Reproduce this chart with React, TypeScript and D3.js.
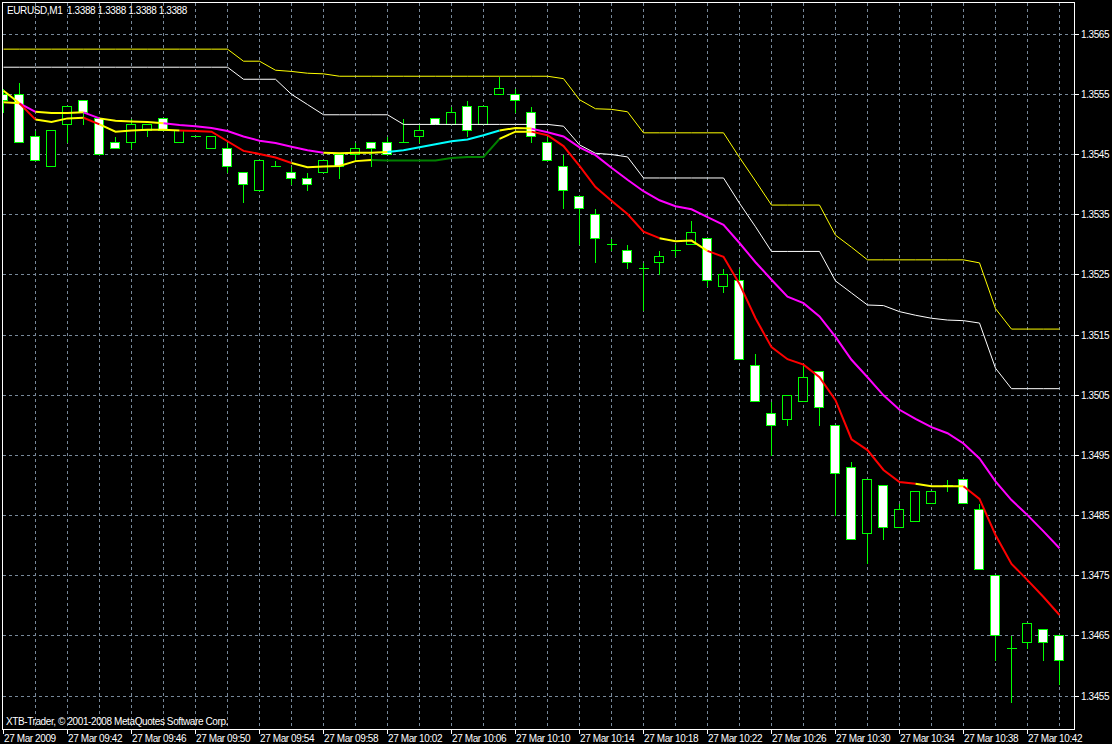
import React, { useEffect } from "react";
import * as d3 from "d3";

// ---------- data ----------
const timeLabels = [
  "27 Mar 2009", "27 Mar 09:42", "27 Mar 09:46", "27 Mar 09:50", "27 Mar 09:54",
  "27 Mar 09:58", "27 Mar 10:02", "27 Mar 10:06", "27 Mar 10:10", "27 Mar 10:14",
  "27 Mar 10:18", "27 Mar 10:22", "27 Mar 10:26", "27 Mar 10:30", "27 Mar 10:34",
  "27 Mar 10:38", "27 Mar 10:42",
];
const priceTicks = [1.3565, 1.3555, 1.3545, 1.3535, 1.3525, 1.3515, 1.3505, 1.3495, 1.3485, 1.3475, 1.3465, 1.3455];

const opens = [
  1.3555, 1.3555, 1.3548, 1.3543, 1.3550, 1.3554, 1.3551, 1.3547, 1.3547, 1.3549,
  1.3551, 1.3547, 1.3548, 1.3546, 1.3546, 1.3542, 1.3539, 1.3543, 1.3542, 1.3541,
  1.3542, 1.3545, 1.3545, 1.3547, 1.3547, 1.3547, 1.3548, 1.3551, 1.3550, 1.3553,
  1.3550, 1.3555, 1.3555, 1.3552, 1.3547, 1.3543, 1.3538, 1.3535, 1.3530, 1.3529,
  1.3526, 1.3527, 1.3529, 1.3530, 1.3531, 1.3523, 1.3524, 1.3510, 1.3502, 1.3501,
  1.3504, 1.3509, 1.3500, 1.3493, 1.3482, 1.3490, 1.3483, 1.3484, 1.3487, 1.3490,
  1.3491, 1.3486, 1.3475, 1.3463, 1.3464, 1.3466, 1.3465,
];
const highs = [
  1.3556, 1.3557, 1.3549, 1.3549, 1.3553, 1.3554, 1.3551, 1.3548, 1.3551, 1.3550,
  1.3551, 1.3549, 1.3548, 1.3548, 1.3547, 1.3542, 1.3544, 1.3544, 1.3543, 1.3542,
  1.3544, 1.3545, 1.3547, 1.3547, 1.3548, 1.3551, 1.3550, 1.3551, 1.3553, 1.3554,
  1.3553, 1.3558, 1.3556, 1.3553, 1.3548, 1.3545, 1.3538, 1.3536, 1.3531, 1.3530,
  1.3527, 1.3529, 1.3530, 1.3534, 1.3531, 1.3526, 1.3526, 1.3512, 1.3504, 1.3505,
  1.3510, 1.3509, 1.3500, 1.3494, 1.3491, 1.3490, 1.3487, 1.3489, 1.3489, 1.3491,
  1.3491, 1.3487, 1.3475, 1.3465, 1.3467, 1.3466, 1.3465,
];
const lows = [
  1.3552, 1.3547, 1.3544, 1.3543, 1.3547, 1.3550, 1.3545, 1.3546, 1.3546, 1.3548,
  1.3549, 1.3547, 1.3548, 1.3546, 1.3542, 1.3537, 1.3539, 1.3543, 1.3540, 1.3539,
  1.3542, 1.3541, 1.3544, 1.3543, 1.3545, 1.3547, 1.3547, 1.3550, 1.3550, 1.3548,
  1.3550, 1.3555, 1.3552, 1.3547, 1.3544, 1.3536, 1.3530, 1.3527, 1.3529, 1.3526,
  1.3519, 1.3525, 1.3528, 1.3530, 1.3523, 1.3522, 1.3511, 1.3504, 1.3495, 1.3500,
  1.3504, 1.3500, 1.3485, 1.3481, 1.3477, 1.3481, 1.3483, 1.3484, 1.3487, 1.3489,
  1.3487, 1.3476, 1.3461, 1.3454, 1.3463, 1.3461, 1.3457,
];
const closes = [
  1.3554, 1.3547, 1.3544, 1.3549, 1.3553, 1.3552, 1.3545, 1.3546, 1.3550, 1.3550,
  1.3549, 1.3549, 1.3548, 1.3548, 1.3543, 1.3540, 1.3544, 1.3543, 1.3541, 1.3540,
  1.3544, 1.3543, 1.3546, 1.3546, 1.3545, 1.3547, 1.3549, 1.3550, 1.3552, 1.3549,
  1.3553, 1.3556, 1.3554, 1.3548, 1.3544, 1.3539, 1.3536, 1.3531, 1.3530, 1.3527,
  1.3526, 1.3528, 1.3529, 1.3532, 1.3524, 1.3525, 1.3511, 1.3504, 1.3500, 1.3505,
  1.3508, 1.3503, 1.3492, 1.3481, 1.3491, 1.3483, 1.3486, 1.3489, 1.3489, 1.3490,
  1.3487, 1.3476, 1.3465, 1.3463, 1.3467, 1.3464, 1.3461,
];

const fastMA = [
  1.35555, 1.35534, 1.35507, 1.35503, 1.35509, 1.35510, 1.35499, 1.35487, 1.35489, 1.35490,
  1.35490, 1.35489, 1.35488, 1.35487, 1.35471, 1.35455, 1.35450, 1.35444, 1.35435, 1.35428,
  1.35429, 1.35430, 1.35438, 1.35440, 1.35439, 1.35439, 1.35439, 1.35439, 1.35443, 1.35445,
  1.35445, 1.35475, 1.35487, 1.35487, 1.35481, 1.35463, 1.35430, 1.35395, 1.35372, 1.35350,
  1.35321, 1.35310, 1.35305, 1.35306, 1.35289, 1.35279, 1.35234, 1.35177, 1.35129, 1.35109,
  1.35100, 1.35079, 1.35041, 1.34976, 1.34958, 1.34925, 1.34905, 1.34902, 1.34898, 1.34898,
  1.34898, 1.34877, 1.34817, 1.34769, 1.34742, 1.34714, 1.34684,
];
const fastRuns: [string, number][] = [
  ["Y", 1], ["R", 1], ["Y", 3], ["R", 1], ["Y", 5], ["R", 7], ["Y", 5],
  ["G", 8], ["Y", 2], ["R", 8], ["Y", 3], ["R", 13], ["Y", 3], ["R", 6],
];

const slowMA = [
  1.35536, 1.35534, 1.35520, 1.35518, 1.35518, 1.35519, 1.35509, 1.35505, 1.35504, 1.35503,
  1.35501, 1.35498, 1.35496, 1.35493, 1.35488, 1.35479, 1.35472, 1.35468, 1.35462, 1.35456,
  1.35452, 1.35451, 1.35452, 1.35452, 1.35453, 1.35456, 1.35461, 1.35466, 1.35471, 1.35474,
  1.35481, 1.35489, 1.35493, 1.35492, 1.35486, 1.35479, 1.35461, 1.35448, 1.35427, 1.35407,
  1.35388, 1.35373, 1.35363, 1.35358, 1.35345, 1.35332, 1.35302, 1.35270, 1.35241, 1.35213,
  1.35202, 1.35180, 1.35146, 1.35108, 1.35079, 1.35049, 1.35025, 1.35010, 1.34996, 1.34986,
  1.34969, 1.34944, 1.34906, 1.34875, 1.34850, 1.34823, 1.34795,
];
const slowRuns: [string, number][] = [
  ["Y", 1], ["M", 1], ["Y", 3], ["M", 1], ["Y", 4], ["M", 10], ["Y", 4], ["C", 7], ["Y", 2], ["M", 33],
];

const upperYellow = [
  1.35624, 1.35624, 1.35624, 1.35624, 1.35624, 1.35624, 1.35624, 1.35624, 1.35624, 1.35624,
  1.35624, 1.35624, 1.35624, 1.35624, 1.35624, 1.35604, 1.35604, 1.35589, 1.35587, 1.35584,
  1.35583, 1.35579, 1.35579, 1.35579, 1.35579, 1.35579, 1.35579, 1.35579, 1.35579, 1.35579,
  1.35579, 1.35579, 1.35579, 1.35579, 1.35579, 1.35575, 1.35540, 1.35525, 1.35524, 1.35520,
  1.35485, 1.35485, 1.35485, 1.35485, 1.35485, 1.35485, 1.35444, 1.35405, 1.35365, 1.35365,
  1.35365, 1.35365, 1.35315, 1.35295, 1.35274, 1.35274, 1.35274, 1.35274, 1.35274, 1.35274,
  1.35274, 1.35269, 1.35193, 1.35159, 1.35159, 1.35159, 1.35159,
];
const upperWhite = [
  1.35594, 1.35594, 1.35594, 1.35594, 1.35594, 1.35594, 1.35594, 1.35594, 1.35594, 1.35594,
  1.35594, 1.35594, 1.35594, 1.35594, 1.35594, 1.35574, 1.35574, 1.35574, 1.35549, 1.35532,
  1.35515, 1.35515, 1.35515, 1.35515, 1.35515, 1.35499, 1.35499, 1.35499, 1.35499, 1.35499,
  1.35499, 1.35499, 1.35499, 1.35499, 1.35499, 1.35496, 1.35465, 1.35451, 1.35449, 1.35445,
  1.35410, 1.35410, 1.35410, 1.35410, 1.35410, 1.35410, 1.35368, 1.35329, 1.35288, 1.35288,
  1.35288, 1.35288, 1.35239, 1.35219, 1.35199, 1.35198, 1.35188, 1.35182, 1.35177, 1.35174,
  1.35173, 1.35169, 1.35094, 1.35060, 1.35060, 1.35060, 1.35060,
];

const titleText = "EURUSD,M1\u00A0\u00A01.3388 1.3388 1.3388 1.3388";
const copyrightText = "XTB-Trader, \u00A9 2001-2008 MetaQuotes Software Corp.";

// ---------- component ----------
const COLORS: Record<string, string> = {
  Y: "#ffff00",
  R: "#ff0000",
  G: "#008000",
  M: "#ff00ff",
  C: "#00ffff",
};

export default function App() {
  useEffect(() => {
    document.body.style.margin = "0";
    document.body.style.background = "#000";
  }, []);

  const W = 1112;
  const H = 744;
  const L = 2.5, T = 2.5, R = 1074.5, B = 729.5;
  const n = opens.length;
  const x = d3.scaleLinear().domain([0, n - 1]).range([3.5, 3.5 + 16 * (n - 1)]);
  const y = d3.scaleLinear().domain([1.3455, 1.3565]).range([695.7, 33.5]);
  const cy = (p: number) => Math.round(y(p)) + 0.5;
  const line = d3
    .line<[number, number]>()
    .x((d) => x(d[0]))
    .y((d) => y(d[1]));

  const runPaths = (vals: number[], runs: [string, number][]) => {
    let s = 0;
    return runs.map(([c, len]) => {
      const pts = d3.range(s, s + len + 1).map((i) => [i, vals[i]] as [number, number]);
      s += len;
      return { d: line(pts) || "", color: COLORS[c] };
    });
  };

  const fastPaths = runPaths(fastMA, fastRuns);
  const slowPaths = runPaths(slowMA, slowRuns);
  const yellowPath = line(upperYellow.map((v, i) => [i, v] as [number, number])) || "";
  const whitePath = line(upperWhite.map((v, i) => [i, v] as [number, number])) || "";

  const vGrid = d3.range(2, n, 2);
  const timeIdx = timeLabels.map((_, k) => k * 4);
  const fmt = d3.format(".4f");
  const font = "'Liberation Sans', Arial, sans-serif";
  const fs = 10;
  const ls = -0.4;
  const grid = "#778899";

  return (
    <svg width={W} height={H} style={{ display: "block", background: "#000" }}>
      <defs>
        <clipPath id="plot">
          <rect x={L} y={T} width={R - L} height={B - T} />
        </clipPath>
      </defs>
      <rect x={0} y={0} width={W} height={H} fill="#000" />

      <g clipPath="url(#plot)">
        {/* grid */}
        <g stroke={grid} strokeWidth={1} strokeDasharray="3,3" shapeRendering="crispEdges">
          {priceTicks.map((p) => (
            <line key={"h" + p} x1={L} x2={R} y1={cy(p)} y2={cy(p)} />
          ))}
          {vGrid.map((i) => (
            <line key={"v" + i} x1={x(i)} x2={x(i)} y1={T} y2={B} />
          ))}
        </g>

        {/* candles */}
        <g shapeRendering="crispEdges">
          {opens.map((o, i) => {
            const c = closes[i];
            const cx = x(i);
            const yTop = cy(Math.max(o, c));
            const yBot = cy(Math.min(o, c));
            const bear = o > c;
            return (
              <g key={"c" + i}>
                <line x1={cx} x2={cx} y1={cy(highs[i])} y2={cy(lows[i])} stroke="#00ff00" strokeWidth={1} />
                {o === c ? (
                  <line x1={cx - 5} x2={cx + 5} y1={yTop} y2={yTop} stroke="#00ff00" strokeWidth={1} />
                ) : (
                  <rect
                    x={cx - 5}
                    y={yTop}
                    width={9}
                    height={yBot - yTop}
                    fill={bear ? "#ffffff" : "#000000"}
                    stroke="#00ff00"
                    strokeWidth={1}
                  />
                )}
              </g>
            );
          })}
        </g>

        {/* upper step lines */}
        <path d={yellowPath} fill="none" stroke="#ffff00" strokeWidth={1} />
        <path d={whitePath} fill="none" stroke="#ffffff" strokeWidth={1} />

        {/* moving averages */}
        {slowPaths.map((p, k) => (
          <path key={"s" + k} d={p.d} fill="none" stroke={p.color} strokeWidth={2} />
        ))}
        {fastPaths.map((p, k) => (
          <path key={"f" + k} d={p.d} fill="none" stroke={p.color} strokeWidth={2} />
        ))}
      </g>

      {/* frame */}
      <rect x={L} y={T} width={R - L} height={B - T} fill="none" stroke="#ffffff" strokeWidth={1} shapeRendering="crispEdges" />

      {/* axis ticks */}
      <g shapeRendering="crispEdges">
        {priceTicks.map((p) => (
          <line key={"rt" + p} x1={R} x2={R + 4} y1={cy(p)} y2={cy(p)} stroke="#ffffff" />
        ))}
        {timeIdx.map((i) => (
          <line key={"bt" + i} x1={x(i)} x2={x(i)} y1={B} y2={B + 4} stroke="#ffffff" />
        ))}
      </g>
      <g fontFamily={font} fontSize={fs} fill="#ffffff" letterSpacing={ls}>
        {priceTicks.map((p) => (
          <text key={"rl" + p} x={1081} y={cy(p) + 3.5}>
            {fmt(p)}
          </text>
        ))}
        {timeLabels.map((t, k) => (
          <text key={"tl" + k} x={x(timeIdx[k]) + 0.5} y={742}>
            {t}
          </text>
        ))}
        <text x={7} y={14}>
          {titleText}
        </text>
        <text x={6} y={724.5}>
          {copyrightText}
        </text>
      </g>
    </svg>
  );
}
